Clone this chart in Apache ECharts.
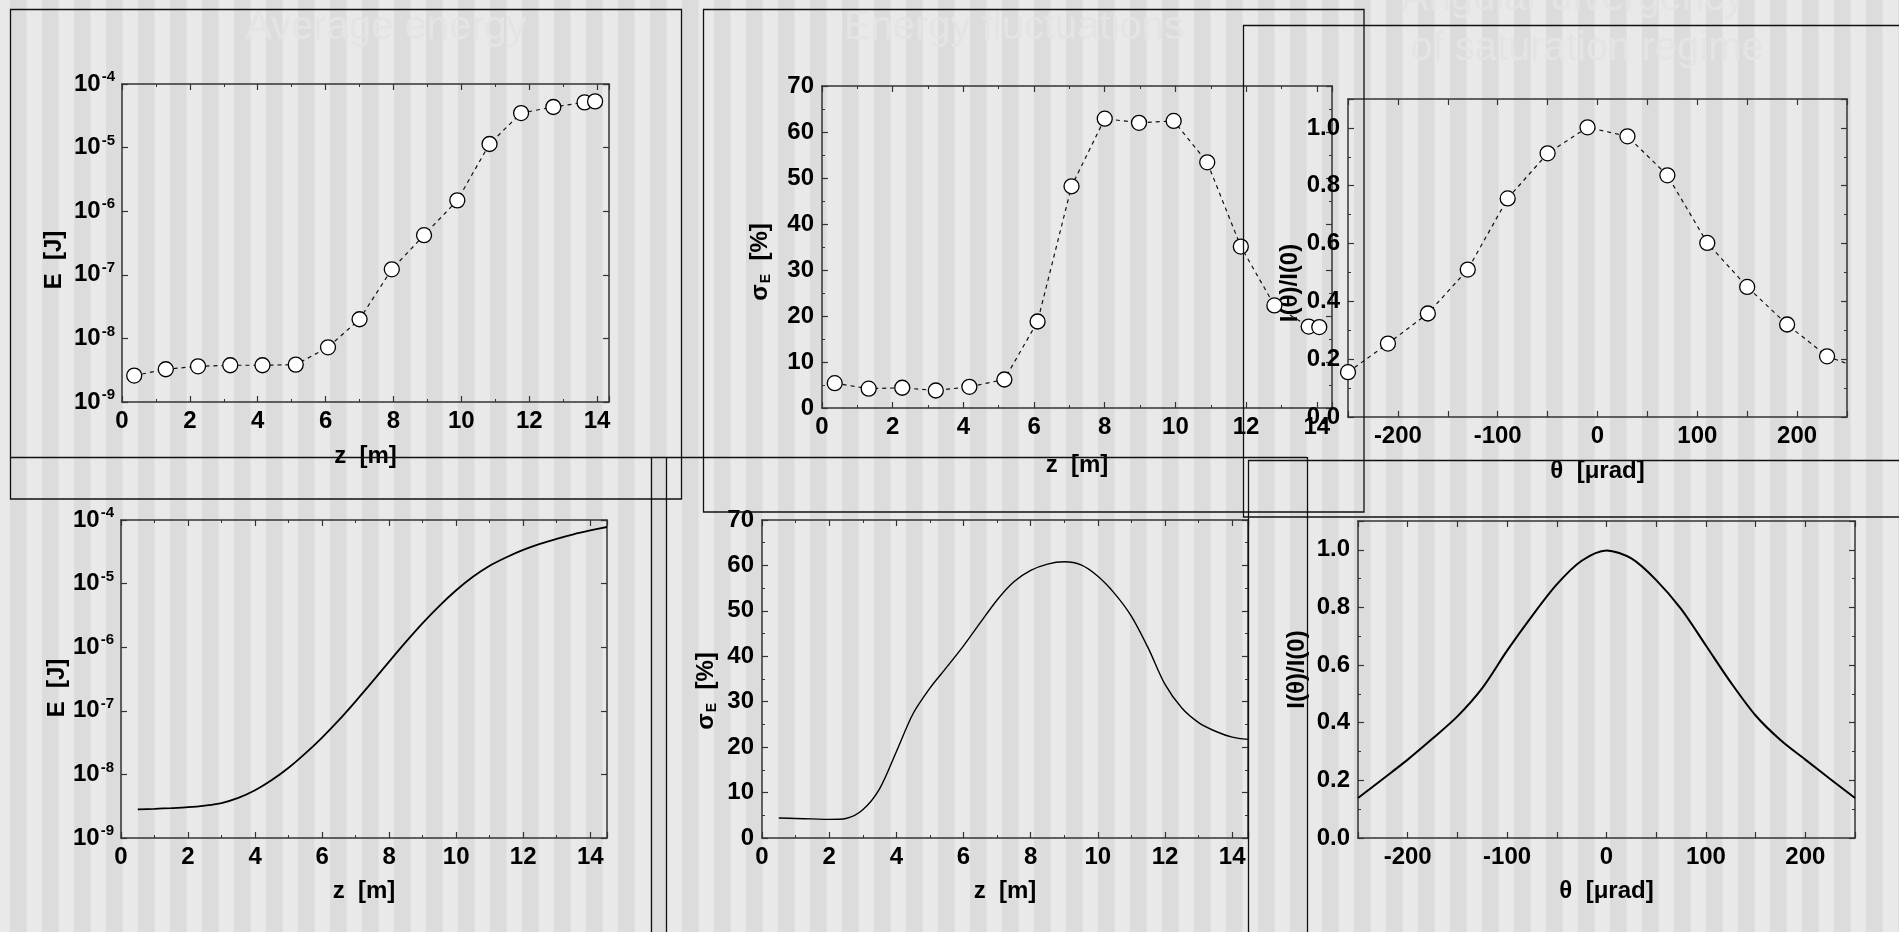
<!DOCTYPE html>
<html>
<head>
<meta charset="utf-8">
<script src="https://cdn.jsdelivr.net/npm/echarts@6/dist/echarts.min.js"></script>
<style>
  html, body { margin: 0; padding: 0; background: #e9e9e9; }
  #chart { width: 1899px; height: 932px; }
</style>
</head>
<body>
<div id="chart"></div>
<script>
// ---- measured data: average energy vs undulator length ----
const energyZ = [0.36, 1.29, 2.24, 3.19, 4.14, 5.12, 6.07, 7.0, 7.95, 8.9, 9.88, 10.83, 11.76, 12.71, 13.63, 13.94];
const energyE = [2.6e-9, 3.27e-9, 3.64e-9, 3.78e-9, 3.78e-9, 3.87e-9, 7.25e-9, 2.0e-8, 1.22e-7, 4.2e-7, 1.48e-6, 1.14e-5, 3.49e-5, 4.35e-5, 5.14e-5, 5.33e-5];

// ---- measured data: energy fluctuations ----
const fluctZ = [0.36, 1.32, 2.27, 3.22, 4.17, 5.16, 6.1, 7.06, 8.0, 8.97, 9.95, 10.9, 11.85, 12.8, 13.77, 14.07];
const fluctSigma = [5.4, 4.2, 4.4, 3.8, 4.6, 6.2, 18.8, 48.2, 62.9, 62.0, 62.4, 53.4, 35.1, 22.3, 17.7, 17.6];

// ---- measured data: angular distribution at saturation ----
const angleTheta = [-250, -210, -170, -130, -90, -50, -10, 30, 70, 110, 150, 190, 230, 270];
const angleI = [0.155, 0.254, 0.358, 0.510, 0.756, 0.912, 1.002, 0.971, 0.836, 0.602, 0.450, 0.320, 0.210, 0.16];

// ---- simulation: average energy ----
const simEnergyZ = [0.5, 1.0, 1.5, 2.0, 2.5, 3.0, 3.5, 4.0, 4.5, 5.0, 5.5, 6.0, 6.5, 7.0, 7.5, 8.0, 8.5, 9.0, 9.5, 10.0, 10.5, 11.0, 11.5, 12.0, 12.5, 13.0, 13.5, 14.0, 14.5];
const simEnergyE = [2.82e-9, 2.88e-9, 2.95e-9, 3.05e-9, 3.24e-9, 3.55e-9, 4.27e-9, 5.62e-9, 8.13e-9, 1.27e-8, 2.14e-8, 3.80e-8, 7.13e-8, 1.41e-7, 2.87e-7, 5.93e-7, 1.21e-6, 2.39e-6, 4.47e-6, 7.85e-6, 1.28e-5, 1.91e-5, 2.60e-5, 3.39e-5, 4.22e-5, 5.07e-5, 5.96e-5, 6.84e-5, 7.76e-5];

// ---- simulation: energy fluctuations ----
const simFluctZ = [0.5, 1.0, 1.5, 2.0, 2.5, 3.0, 3.5, 4.0, 4.5, 5.0, 5.5, 6.0, 6.5, 7.0, 7.5, 8.0, 8.5, 9.0, 9.5, 10.0, 10.5, 11.0, 11.5, 12.0, 12.5, 13.0, 13.5, 14.0, 14.47];
const simFluctSigma = [4.4, 4.3, 4.2, 4.1, 4.3, 6.2, 10.8, 19.0, 27.4, 33.0, 37.6, 42.3, 47.4, 52.4, 56.4, 58.9, 60.3, 60.8, 60.1, 57.6, 53.8, 48.8, 41.8, 33.8, 28.6, 25.4, 23.5, 22.2, 21.7];

// ---- simulation: angular distribution ----
const simTheta = [-250, -225, -200, -175, -150, -125, -100, -75, -50, -25, 0, 25, 50, 75, 100, 125, 150, 175, 200, 225, 250];
const simI = [0.139, 0.205, 0.272, 0.345, 0.422, 0.520, 0.650, 0.770, 0.880, 0.962, 0.998, 0.970, 0.895, 0.795, 0.668, 0.540, 0.425, 0.340, 0.272, 0.205, 0.139];

// ---- panel titles ----
const titleEnergy = 'Average energy';
const titleFluct = 'Energy fluctuations';
const titleAngle1 = 'Angular divergency';
const titleAngle2 = 'of saturation regime';

const FONT = "'Liberation Sans Narrow','Liberation Sans',Arial,sans-serif";
const AXIS_COLOR = '#333';
const LINE_COLOR = '#111';
const LABEL_SIZE = 24;

const chart = echarts.init(document.getElementById('chart'), null, { renderer: 'canvas' });

const grids = [
  { left: 122, top: 84, width: 487, height: 318 },   // average energy (measured)
  { left: 822, top: 86, width: 510, height: 322 },   // fluctuations (measured)
  { left: 1348, top: 99, width: 499, height: 318 },  // angular (measured)
  { left: 121, top: 520, width: 486, height: 318 },  // average energy (simulated)
  { left: 762, top: 520, width: 486, height: 318 },  // fluctuations (simulated)
  { left: 1358, top: 521, width: 497, height: 317 }  // angular (simulated)
];

const labelStyle = { fontFamily: FONT, fontWeight: 'bold', fontSize: LABEL_SIZE, color: '#000' };
const nameStyle = { fontFamily: FONT, fontWeight: 'bold', fontSize: 24, color: '#000' };
const axisLine = { show: true, onZero: false, lineStyle: { color: AXIS_COLOR, width: 1.5 } };
const tick = { show: true, inside: true, length: 6, lineStyle: { color: AXIS_COLOR, width: 1.2 } };
const minor = (n) => ({ show: n > 0, splitNumber: n || 2, length: 3, lineStyle: { color: AXIS_COLOR, width: 1 } });

const xAxes = [];
const yAxes = [];

function logLabel(v) {
  const e = Math.round(Math.log10(v));
  return '{b|10}{e|' + e + '}';
}
const logRich = {
  b: { fontFamily: FONT, fontWeight: 'bold', fontSize: LABEL_SIZE, lineHeight: 29, color: '#000' },
  e: { fontFamily: FONT, fontWeight: 'bold', fontSize: 15, lineHeight: 15, padding: [0, 0, 14, 1], color: '#000' }
};

// builds the bottom/left axes with labels plus the mirrored top/right axes
function addAxes(g, xs, ys) {
  const xi = xAxes.length;
  const base = { gridIndex: g, splitLine: { show: false }, axisLine: axisLine, axisTick: tick };
  xAxes.push(Object.assign({}, base, xs, {
    position: 'bottom',
    minorTick: minor(xs.minorN),
    axisLabel: Object.assign({}, labelStyle, { margin: 7, showMaxLabel: xs.showMax, formatter: xs.fmt }),
    nameLocation: 'middle',
    nameTextStyle: nameStyle
  }));
  xAxes.push(Object.assign({}, base, {
    type: xs.type, min: xs.min, max: xs.max, interval: xs.interval,
    position: 'top', minorTick: minor(xs.minorN), axisLabel: { show: false }
  }));
  const yi = yAxes.length;
  const yLabel = ys.type === 'log'
    ? Object.assign({}, labelStyle, { margin: 7, formatter: logLabel, rich: logRich })
    : Object.assign({}, labelStyle, { margin: 8, showMaxLabel: ys.showMax, formatter: ys.fmt });
  yAxes.push(Object.assign({}, base, ys, {
    position: 'left',
    minorTick: minor(ys.minorN),
    axisLabel: yLabel,
    nameLocation: 'middle',
    nameRotate: 90,
    nameTextStyle: Object.assign({}, nameStyle, ys.nameStyle || {})
  }));
  delete yAxes[yi].nameStyle;
  yAxes.push(Object.assign({}, base, {
    type: ys.type, min: ys.min, max: ys.max, interval: ys.interval, logBase: ys.logBase,
    position: 'right', minorTick: minor(ys.minorN), axisLabel: { show: false }
  }));
  return { xi: xi, yi: yi };
}

const fmtInt = (v) => String(Math.round(v));
const fmt1 = (v) => v.toFixed(1);
const fmtTheta = (v) => (Math.round(v) % 100 === 0 ? String(Math.round(v)) : '');

const sigmaRich = {
  s: { fontFamily: FONT, fontWeight: 'bold', fontSize: 24, color: '#000' },
  sub: { fontFamily: FONT, fontWeight: 'bold', fontSize: 14, lineHeight: 14, padding: [12, 0, 0, 1], color: '#000' },
  n: { fontFamily: FONT, fontWeight: 'bold', fontSize: 24, color: '#000' }
};

const zAxisTop = { type: 'value', min: 0, max: 14.35, interval: 2, minorN: 2, showMax: false, fmt: fmtInt, name: 'z  [m]' };
const zAxisBottom = Object.assign({}, zAxisTop, { max: 14.5 });
const thetaAxis = { type: 'value', min: -250, max: 250, interval: 50, minorN: 0, fmt: fmtTheta, name: 'θ  [μrad]' };
const logAxis = { type: 'log', logBase: 10, min: 1e-9, max: 1e-4, minorN: 0, name: 'E  [J]' };
const sigmaAxis = { type: 'value', min: 0, max: 70, interval: 10, minorN: 2, showMax: true, fmt: fmtInt, name: '{s|σ}{sub|E}  {n|[%]}' };
const iAxis = { type: 'value', min: 0, max: 1.1, interval: 0.2, minorN: 2, showMax: false, fmt: fmt1, name: 'I(θ)/I(0)' };

const a0 = addAxes(0, Object.assign({}, zAxisTop, { nameGap: 42 }),
  Object.assign({}, logAxis, { nameGap: 56, nameStyle: { padding: [0, 34, 0, 0] } }));
const a1 = addAxes(1, Object.assign({}, zAxisTop, { max: 14.43, nameGap: 45 }),
  Object.assign({}, sigmaAxis, { nameGap: 50, nameStyle: { rich: sigmaRich, padding: [0, 30, 0, 0] } }));
const a2 = addAxes(2, Object.assign({}, thetaAxis, { nameGap: 42 }),
  Object.assign({}, iAxis, { nameGap: 44, nameStyle: { padding: [0, 50, 0, 0] } }));
const a3 = addAxes(3, Object.assign({}, zAxisBottom, { nameGap: 41 }),
  Object.assign({}, logAxis, { nameGap: 52, nameStyle: { padding: [0, 18, 0, 0] } }));
const a4 = addAxes(4, Object.assign({}, zAxisBottom, { max: 14.47, nameGap: 41 }),
  Object.assign({}, sigmaAxis, { nameGap: 44, nameStyle: { rich: sigmaRich, padding: [0, 24, 0, 0] } }));
const a5 = addAxes(5, Object.assign({}, thetaAxis, { nameGap: 41 }),
  Object.assign({}, iAxis, { nameGap: 49, nameStyle: { padding: [0, 0, 0, 20] } }));

// strip helper-only keys that ECharts does not know about
[...xAxes, ...yAxes].forEach((ax) => { delete ax.minorN; delete ax.showMax; delete ax.fmt; });

const zip = (xs, ys) => xs.map((x, i) => [x, ys[i]]);

function measured(ax, xs, ys) {
  return {
    type: 'line', xAxisIndex: ax.xi, yAxisIndex: ax.yi,
    data: zip(xs, ys), clip: true, z: 3,
    symbol: 'circle', symbolSize: 15, showSymbol: true,
    lineStyle: { color: LINE_COLOR, width: 1.2, type: [4, 4] },
    itemStyle: { color: '#fff', borderColor: '#000', borderWidth: 1.3 },
    emphasis: { disabled: true }, animation: false
  };
}
function simulated(ax, xs, ys, w) {
  return {
    type: 'line', xAxisIndex: ax.xi, yAxisIndex: ax.yi,
    data: zip(xs, ys), clip: true, smooth: 0.3, showSymbol: false, z: 3,
    lineStyle: { color: '#000', width: w },
    emphasis: { disabled: true }, animation: false
  };
}

// ---- background stripes, frames and titles ----
const graphics = [];
const PERIOD = 32, DARK_W = 16.5;
for (let x = 10 - PERIOD; x < 1899; x += PERIOD) {
  graphics.push({ type: 'rect', silent: true, z: -10, shape: { x: x, y: 0, width: DARK_W, height: 932 }, style: { fill: '#dcdcdc' } });
}
const frameStyle = { stroke: '#111', lineWidth: 1.3, fill: null };
const rect = (x, y, w, h) => ({ type: 'rect', silent: true, z: 20, shape: { x: x, y: y, width: w, height: h }, style: frameStyle });
const seg = (x1, y1, x2, y2) => ({ type: 'line', silent: true, z: 20, shape: { x1: x1, y1: y1, x2: x2, y2: y2 }, style: { stroke: '#111', lineWidth: 1.3 } });
graphics.push(rect(10.5, 9.5, 671, 489.5));
graphics.push(rect(703.5, 9.5, 660.5, 502.5));
graphics.push(rect(1243.5, 25.5, 700, 491.5));
graphics.push(seg(10, 457.5, 1307, 457.5));
graphics.push(seg(651.5, 457, 651.5, 932));
graphics.push(seg(666.5, 457, 666.5, 932));
graphics.push(seg(1307.5, 457, 1307.5, 932));
graphics.push(seg(1248, 460.5, 1899, 460.5));
graphics.push(seg(1248.5, 460, 1248.5, 932));

const titleStyle = { font: '40px "Liberation Sans", Arial, sans-serif', fill: '#e4e4e4', align: 'center', verticalAlign: 'middle' };
const title = (text, x, y) => ({ type: 'text', silent: true, z: -5, x: x, y: y, style: Object.assign({ text: text }, titleStyle) });
graphics.push(title(titleEnergy, 386, 28));
graphics.push(title(titleFluct, 1014, 28));
graphics.push(title(titleAngle1, 1573, -1));
graphics.push(title(titleAngle2, 1587, 49));

chart.setOption({
  animation: false,
  backgroundColor: '#e9e9e9',
  grid: grids.map((g) => Object.assign({ containLabel: false, show: false }, g)),
  xAxis: xAxes,
  yAxis: yAxes,
  graphic: graphics,
  series: [
    measured(a0, energyZ, energyE),
    measured(a1, fluctZ, fluctSigma),
    measured(a2, angleTheta, angleI),
    simulated(a3, simEnergyZ, simEnergyE, 1.8),
    simulated(a4, simFluctZ, simFluctSigma, 1.4),
    simulated(a5, simTheta, simI, 2)
  ]
});
</script>
</body>
</html>
